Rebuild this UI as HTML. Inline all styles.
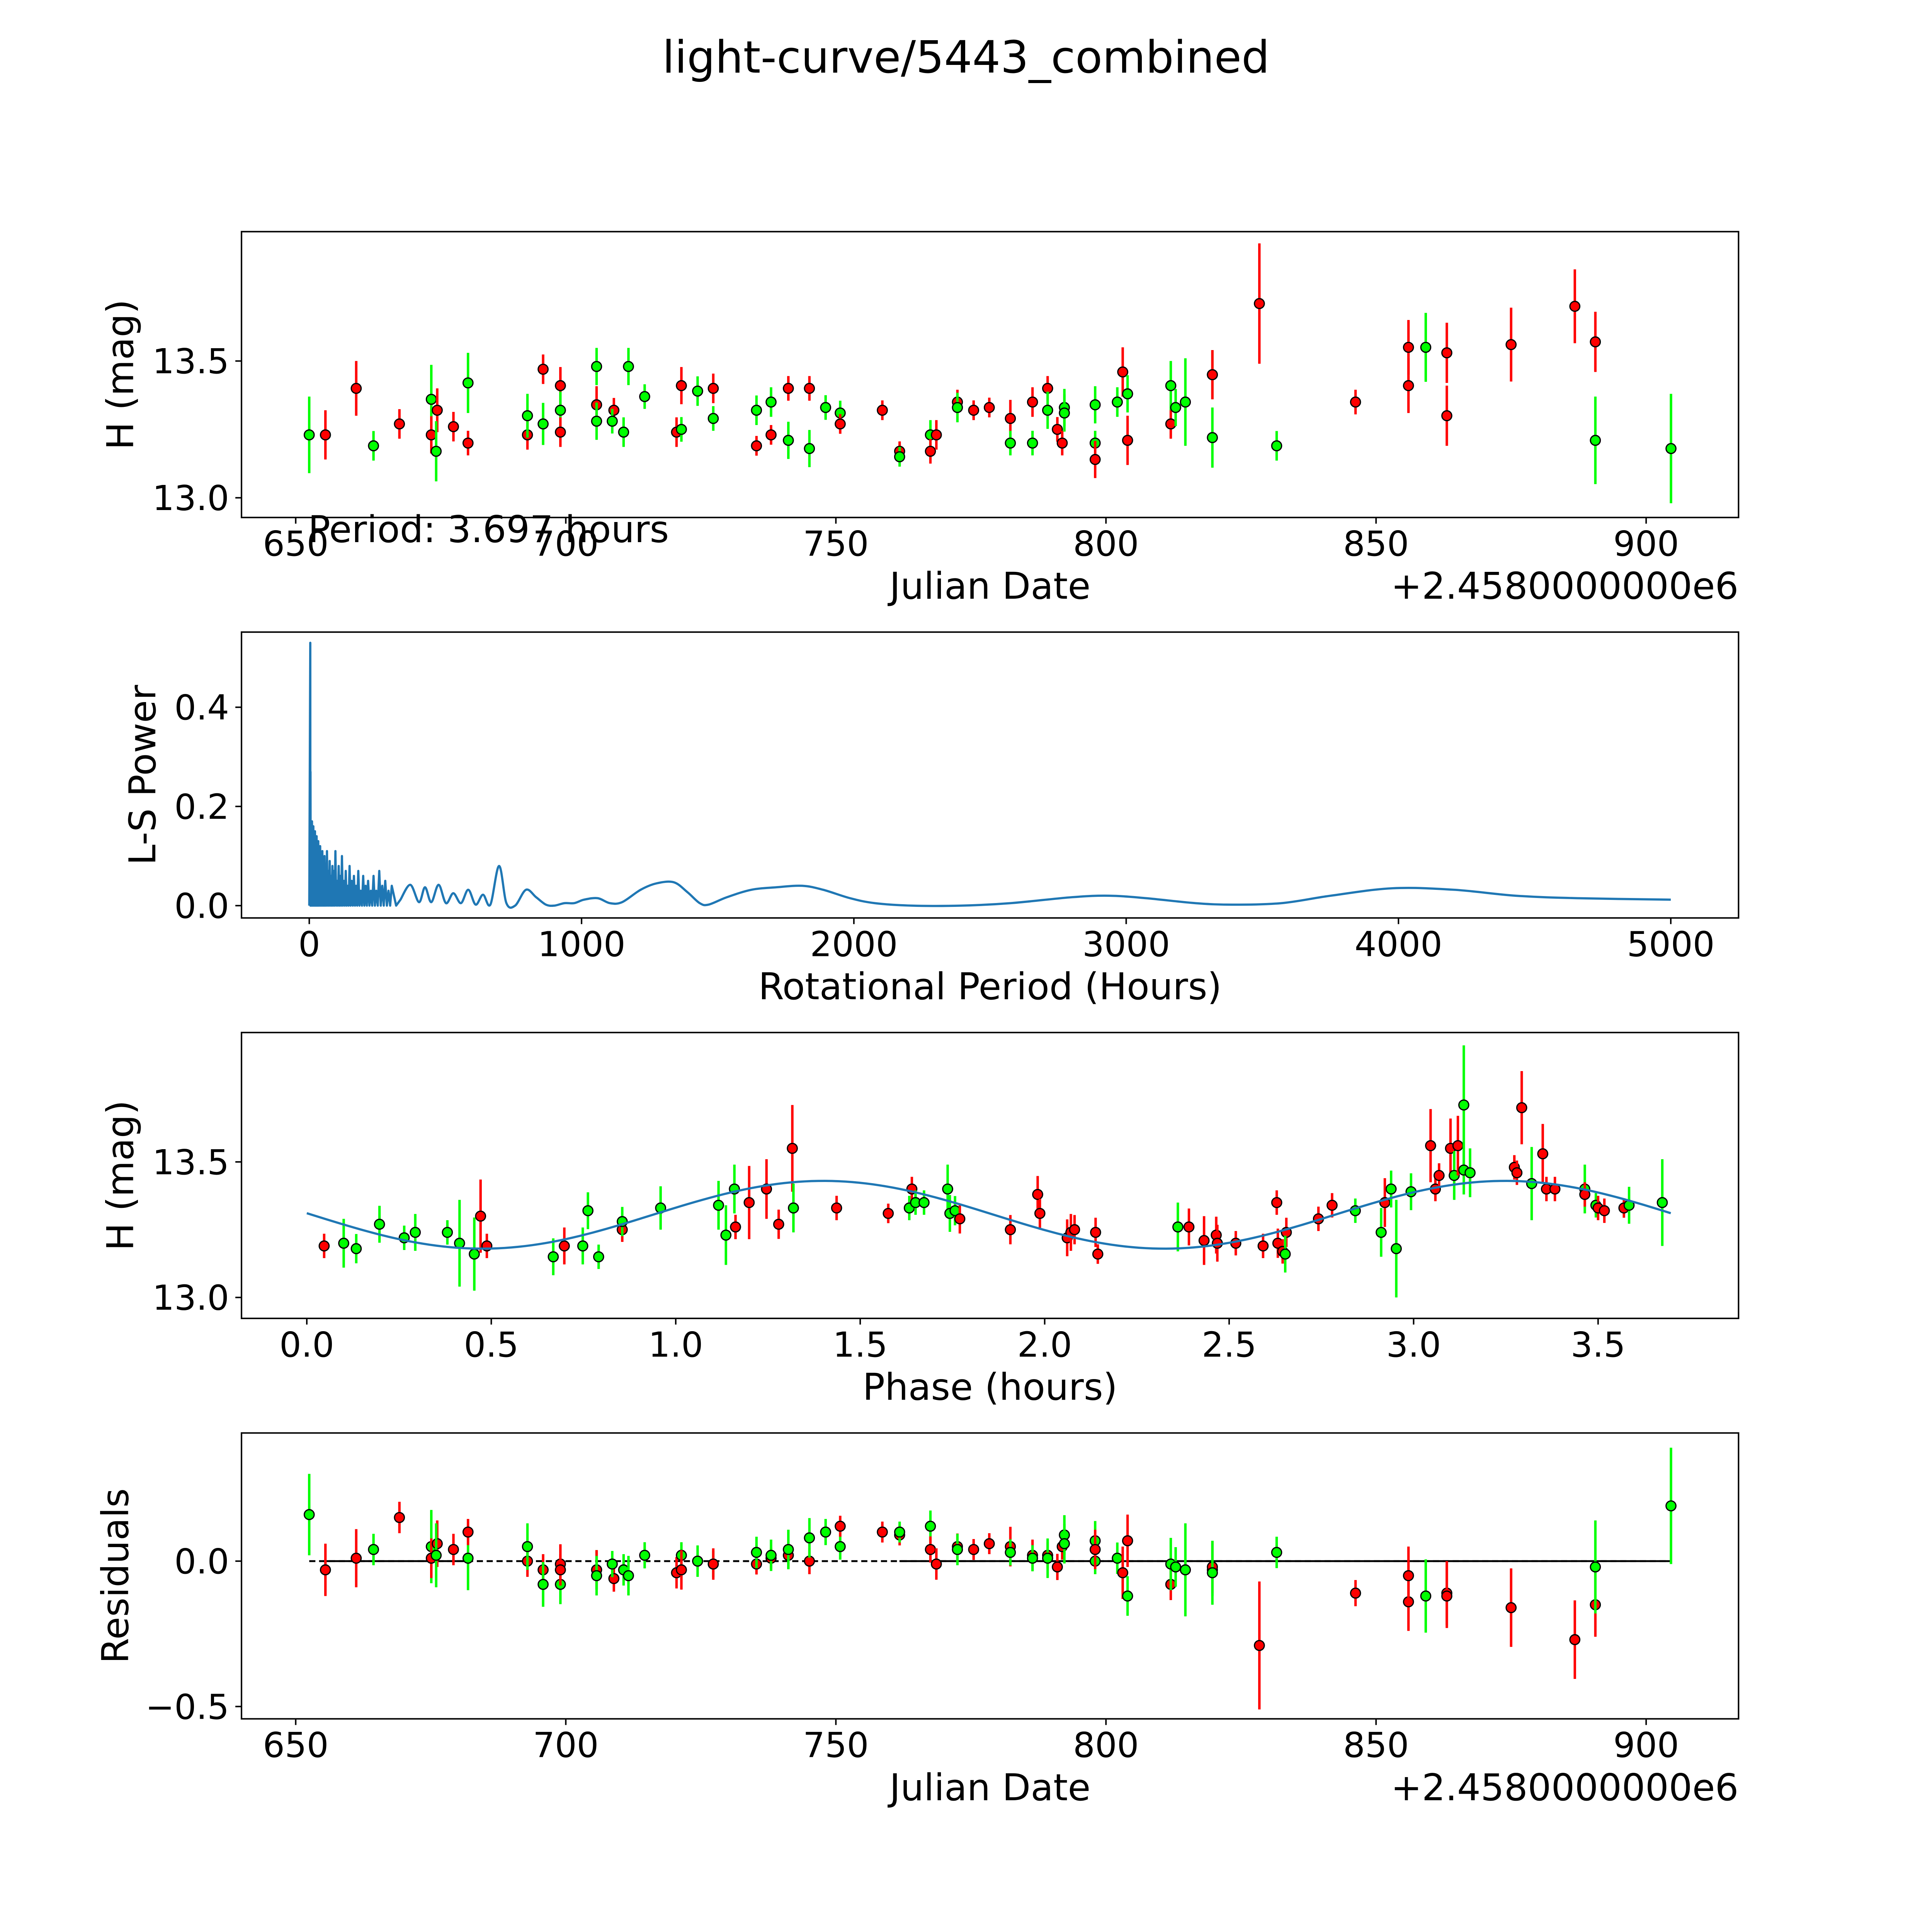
<!DOCTYPE html>
<html><head><meta charset="utf-8"><style>
html,body{margin:0;padding:0;background:#fff;overflow:hidden;width:100vw;height:100vh;}
#fig{display:block;position:absolute;left:0;top:0;width:100vw;height:100vh;}
text{font-family:"DejaVu Sans","Liberation Sans",sans-serif;fill:#000;}
</style></head><body>
<svg id="fig" xmlns="http://www.w3.org/2000/svg" viewBox="0 0 1568 1568" preserveAspectRatio="none">
<rect x="0" y="0" width="1568" height="1568" fill="#fff"/>
<text x="784" y="59" font-size="36" text-anchor="middle">light-curve/5443_combined</text>
<g id="g1"></g>
<g id="g2"></g>
<g id="g3"></g>
<g id="g4"></g>
</svg>
<script>
// ---- time series data (JD - 2458000) ----
const dates=[652.5,655.5,661.2,664.4,669.2,675.1,675.1,676.2,676.0,679.2,681.9,681.9,692.9,692.9,695.8,695.8,699.0,699.0,699.0,705.7,705.7,705.7,708.9,708.6,710.7,711.6,714.6,720.5,721.4,721.4,724.4,727.3,727.3,735.3,735.3,738.0,738.0,741.2,741.2,745.1,745.1,748.1,750.8,750.8,758.6,761.8,761.8,767.5,767.5,768.6,772.5,772.5,775.5,778.4,782.3,782.3,786.4,786.4,789.2,789.2,791.0,791.9,792.3,792.3,798.0,798.0,798.0,802.1,803.1,804.0,804.0,812.0,812.0,812.9,814.7,819.7,819.7,819.7,828.4,831.6,846.2,856.0,856.0,859.2,863.1,863.1,875.0,886.8,890.6,890.6,904.6];
const mags=[13.23,13.23,13.40,13.19,13.27,13.36,13.23,13.32,13.17,13.26,13.42,13.20,13.23,13.30,13.47,13.27,13.41,13.32,13.24,13.48,13.34,13.28,13.32,13.28,13.24,13.48,13.37,13.24,13.25,13.41,13.39,13.29,13.40,13.19,13.32,13.23,13.35,13.40,13.21,13.40,13.18,13.33,13.31,13.27,13.32,13.17,13.15,13.23,13.17,13.23,13.35,13.33,13.32,13.33,13.29,13.20,13.35,13.20,13.40,13.32,13.25,13.20,13.33,13.31,13.34,13.20,13.14,13.35,13.46,13.38,13.21,13.27,13.41,13.33,13.35,13.45,13.45,13.22,13.71,13.19,13.35,13.55,13.41,13.55,13.53,13.30,13.56,13.70,13.57,13.21,13.18];
const errs=[0.14,0.09,0.10,0.054,0.054,0.126,0.068,0.08,0.11,0.054,0.11,0.045,0.054,0.08,0.054,0.077,0.068,0.068,0.054,0.068,0.068,0.068,0.045,0.045,0.054,0.068,0.045,0.054,0.045,0.068,0.054,0.045,0.054,0.036,0.054,0.036,0.054,0.045,0.068,0.045,0.068,0.045,0.045,0.036,0.036,0.036,0.036,0.054,0.045,0.054,0.045,0.054,0.036,0.036,0.068,0.045,0.054,0.045,0.045,0.068,0.045,0.045,0.068,0.068,0.068,0.045,0.068,0.054,0.09,0.068,0.09,0.054,0.09,0.068,0.16,0.09,0.09,0.11,0.22,0.054,0.045,0.10,0.10,0.126,0.11,0.11,0.135,0.135,0.11,0.16,0.2];
const colors="grrgrgrrgrgrrgrgrgrgrgrggggrgrggrrgrgrgrgggrrrggrrrgrrrgrgrgrrggggrgrgrrggggrgrgrrrgrrrrrgg";
const resid=[0.16,-0.03,0.01,0.04,0.15,0.05,0.01,0.06,0.02,0.04,0.01,0.10,0.00,0.05,-0.03,-0.08,-0.01,-0.08,-0.03,-0.03,-0.03,-0.05,-0.06,-0.01,-0.03,-0.05,0.02,-0.04,0.02,-0.03,0.00,-0.01,-0.01,-0.01,0.03,0.01,0.02,0.02,0.04,0.00,0.08,0.10,0.05,0.12,0.10,0.09,0.10,0.12,0.04,-0.01,0.05,0.04,0.04,0.06,0.05,0.03,0.02,0.01,0.02,0.01,-0.02,0.05,0.09,0.06,0.07,0.00,0.04,0.01,-0.04,-0.12,0.07,-0.08,-0.01,-0.02,-0.03,-0.03,-0.02,-0.04,-0.29,0.03,-0.11,-0.14,-0.05,-0.12,-0.11,-0.12,-0.16,-0.27,-0.15,-0.02,0.19];
// ---- phase-folded data ----
const phases=[0.047,0.10,0.134,0.197,0.264,0.294,0.381,0.414,0.454,0.471,0.488,0.668,0.698,0.748,0.762,0.791,0.855,0.855,0.959,1.116,1.136,1.162,1.159,1.199,1.246,1.279,1.316,1.319,1.436,1.576,1.640,1.633,1.650,1.673,1.737,1.743,1.757,1.770,1.907,1.981,1.987,2.061,2.071,2.081,2.138,2.144,2.361,2.391,2.432,2.465,2.468,2.518,2.592,2.629,2.632,2.645,2.655,2.652,2.742,2.779,2.842,2.912,2.922,2.939,2.953,2.993,3.046,3.059,3.069,3.100,3.110,3.120,3.136,3.136,3.153,3.273,3.280,3.293,3.320,3.350,3.360,3.383,3.464,3.464,3.494,3.500,3.517,3.570,3.584,3.674];
const phaseMags=[13.19,13.20,13.18,13.27,13.22,13.24,13.24,13.20,13.16,13.30,13.19,13.15,13.19,13.19,13.32,13.15,13.25,13.28,13.33,13.34,13.23,13.26,13.40,13.35,13.40,13.27,13.55,13.33,13.33,13.31,13.40,13.33,13.35,13.35,13.40,13.31,13.32,13.29,13.25,13.38,13.31,13.22,13.24,13.25,13.24,13.16,13.26,13.26,13.21,13.23,13.20,13.20,13.19,13.35,13.20,13.17,13.24,13.16,13.29,13.34,13.32,13.24,13.35,13.40,13.18,13.39,13.56,13.40,13.45,13.55,13.45,13.56,13.71,13.47,13.46,13.48,13.46,13.70,13.42,13.53,13.40,13.40,13.40,13.38,13.34,13.33,13.32,13.33,13.34,13.35];
const phaseErrs=[0.045,0.09,0.054,0.068,0.045,0.068,0.045,0.16,0.135,0.135,0.045,0.068,0.068,0.068,0.068,0.045,0.045,0.054,0.08,0.09,0.11,0.045,0.09,0.135,0.11,0.054,0.16,0.09,0.045,0.036,0.045,0.045,0.045,0.045,0.09,0.068,0.054,0.054,0.054,0.068,0.054,0.068,0.068,0.054,0.054,0.036,0.09,0.068,0.09,0.068,0.068,0.045,0.045,0.045,0.054,0.045,0.054,0.068,0.045,0.045,0.045,0.09,0.09,0.068,0.18,0.068,0.135,0.045,0.045,0.11,0.09,0.11,0.22,0.09,0.09,0.045,0.045,0.135,0.135,0.11,0.045,0.045,0.09,0.045,0.045,0.045,0.045,0.036,0.068,0.16];
const phaseColors="rggggggggrrgrgggrggggrgrrrrgrrrggggggrrrrrrrrrgrrrrrrrrrrgrrggrgggrrrrgrgggrrrgrrrgrgrrrggg";
// fit model
const fitMean=13.305, fitAmp=0.125, fitPeriod=3.697, fitPhase0=0.938;
// ---- periodogram ----
const spikePeriods=[3.7,4.5,6,8,10,12,15,18,21,24,27,30,33,36,40,44,48,52,56,60,65,70,75,80,85,90,96,102,108,114,120,127,134,141,148,156,164,172,180,189,198,207,216,226,236,246,257,268,279,291,303];
const spikePowers=[0.53,0.27,0.17,0.16,0.17,0.15,0.16,0.14,0.15,0.12,0.14,0.11,0.13,0.10,0.12,0.09,0.11,0.08,0.10,0.08,0.11,0.07,0.09,0.06,0.08,0.07,0.11,0.05,0.08,0.06,0.10,0.05,0.07,0.04,0.08,0.05,0.06,0.04,0.07,0.03,0.06,0.04,0.05,0.03,0.06,0.03,0.07,0.04,0.05,0.03,0.04];
const smoothPeriods=[335,371,403,425,448,475,502,529,557,584,611,638,665,697,724,756,796,833,869,900,937,973,1009,1059,1104,1149,1217,1276,1339,1389,1434,1466,1534,1624,1715,1810,1887,1986,2077,2213,2394,2575,2801,2937,3073,3254,3389,3570,3751,3978,4204,4430,4656,5000];
const smoothPowers=[0.012,0.042,0.007,0.037,0.007,0.042,0.005,0.025,0.005,0.032,0.002,0.022,0.002,0.080,0.005,0.0,0.032,0.017,0.002,0.0,0.005,0.005,0.012,0.015,0.005,0.007,0.032,0.045,0.047,0.027,0.005,0.002,0.017,0.032,0.037,0.040,0.032,0.015,0.005,0.0,0.0,0.005,0.017,0.020,0.015,0.005,0.002,0.005,0.020,0.035,0.032,0.020,0.015,0.012];
const ticksJD=[650,700,750,800,850,900];
const ticksMag=[13.0,13.5];
const ticksPer=[0,1000,2000,3000,4000,5000];
const ticksPow=[0.0,0.2,0.4];
const ticksPhase=[0.0,0.5,1.0,1.5,2.0,2.5,3.0,3.5];
const ticksRes=[-0.5,0.0];

const NS="http://www.w3.org/2000/svg";
function mk(parent,tag,attrs){const e=document.createElementNS(NS,tag);for(const k in attrs)e.setAttribute(k,attrs[k]);parent.appendChild(e);return e;}
function lin(d0,d1,r0,r1){return v=>r0+(v-d0)*(r1-r0)/(d1-d0);}
const L=196,R=1411;
const xJD=lin(650,900,240,1336);
const GREEN="#00ff00",RED="#ff0000";
const TICK_FS=28, LABEL_FS=30;

function frame(g,top,bot,xs,xt,xfmt,ys,yt,yfmt,xlabel,ylabel,ylx){
  const r=mk(g,'rect',{x:L,y:top,width:R-L,height:bot-top,fill:'none',stroke:'#000','stroke-width':1.2});
  
  
  xt.forEach(v=>{const x=xs(v);
    const t=mk(g,'line',{x1:x,x2:x,y1:bot,y2:bot+5,stroke:'#000','stroke-width':1.2});
    
    
    const tx=mk(g,'text',{x:x,y:bot+31,'font-size':TICK_FS,'text-anchor':'middle'});tx.textContent=xfmt(v);
    
    });
  yt.forEach(v=>{const y=ys(v);
    const t=mk(g,'line',{x1:L-5,x2:L,y1:y,y2:y,stroke:'#000','stroke-width':1.2});
    
    
    const tx=mk(g,'text',{x:L-10,y:y+10,'font-size':TICK_FS,'text-anchor':'end'});tx.textContent=yfmt(v);
    
    });
  const xl=mk(g,'text',{x:(L+R)/2,y:bot+66,'font-size':LABEL_FS,'text-anchor':'middle'});xl.textContent=xlabel;
  
  
  const cy=(top+bot)/2;
  const yl=mk(g,'text',{x:ylx,y:cy,'font-size':LABEL_FS,'text-anchor':'middle',transform:`rotate(-90 ${ylx} ${cy})`});yl.textContent=ylabel;
  
  
}
function offset(g,bot){const t=mk(g,'text',{x:R,y:bot+66,'font-size':LABEL_FS,'text-anchor':'end'});t.textContent='+2.4580000000e6';
  
  }
function point(g,x,y,e1,e2,c){
  const col=c==='g'?GREEN:RED;
  const l=mk(g,'line',{x1:x,x2:x,y1:e1,y2:e2,stroke:col,'stroke-width':2});
  
  
  const p=mk(g,'circle',{cx:x,cy:y,r:4,fill:col,stroke:'#000','stroke-width':1});
  
  
}

// Panel 1
(function(){const g=document.getElementById('g1');const top=188,bot=420;
  const ys=lin(13.0,13.5,404,293);
  frame(g,top,bot,xJD,ticksJD,v=>String(v),ys,ticksMag,v=>v.toFixed(1),'Julian Date','H (mag)',108);
  offset(g,bot);
  dates.forEach((d,i)=>point(g,xJD(d),ys(mags[i]),ys(mags[i]+errs[i]),ys(mags[i]-errs[i]),colors[i]));
  const t=mk(g,'text',{x:250,y:440,'font-size':LABEL_FS});t.textContent='Period: 3.697 hours';
  
  
})();
// Panel 2
(function(){const g=document.getElementById('g2');const top=513,bot=745;
  const xs=lin(0,5000,251,1356),ys=lin(0,0.4,735,574);
  frame(g,top,bot,xs,ticksPer,v=>String(v),ys,ticksPow,v=>v.toFixed(1),'Rotational Period (Hours)','L-S Power',126);
  let d='M'+xs(0).toFixed(2)+','+ys(0).toFixed(2);
  for(let i=0;i<spikePeriods.length;i++){
    d+=' L'+xs(spikePeriods[i]).toFixed(2)+','+ys(spikePowers[i]).toFixed(2);
    const nxt=i+1<spikePeriods.length?spikePeriods[i+1]:smoothPeriods[0];
    d+=' L'+xs((spikePeriods[i]+nxt)/2).toFixed(2)+','+ys(0).toFixed(2);
  }
  const P=smoothPeriods.map((p,i)=>[xs(p),ys(smoothPowers[i])]);
  d+=' L'+P[0][0].toFixed(2)+','+P[0][1].toFixed(2);
  for(let i=0;i<P.length-1;i++){
    const p0=P[Math.max(0,i-1)],p1=P[i],p2=P[i+1],p3=P[Math.min(P.length-1,i+2)];
    const c1=[p1[0]+(p2[0]-p0[0])/6,p1[1]+(p2[1]-p0[1])/6];
    const c2=[p2[0]-(p3[0]-p1[0])/6,p2[1]-(p3[1]-p1[1])/6];
    d+=' C'+c1.map(v=>v.toFixed(2)).join(',')+' '+c2.map(v=>v.toFixed(2)).join(',')+' '+p2.map(v=>v.toFixed(2)).join(',');
  }
  const pl=mk(g,'path',{d:d,fill:'none',stroke:'#1f77b4','stroke-width':1.8,'stroke-linejoin':'round'});
  
  
})();
// Panel 3
(function(){const g=document.getElementById('g3');const top=838,bot=1070;
  const xs=lin(0,3.5,249,1297),ys=lin(13.0,13.5,1053,943);
  frame(g,top,bot,xs,ticksPhase,v=>v.toFixed(1),ys,ticksMag,v=>v.toFixed(1),'Phase (hours)','H (mag)',108);
  phases.forEach((p,i)=>point(g,xs(p),ys(phaseMags[i]),ys(phaseMags[i]+phaseErrs[i]),ys(phaseMags[i]-phaseErrs[i]),phaseColors[i]));
  let pts=[];for(let k=0;k<=200;k++){const p=fitPeriod*k/200;const m=fitMean+fitAmp*Math.sin(2*Math.PI*(p-fitPhase0)/(fitPeriod/2));pts.push(xs(p).toFixed(2)+','+ys(m).toFixed(2));}
  const pl=mk(g,'polyline',{points:pts.join(' '),fill:'none',stroke:'#1f77b4','stroke-width':1.8});
  
  
})();
// Panel 4
(function(){const g=document.getElementById('g4');const top=1163,bot=1395;
  const ys=lin(0,-0.5,1267,1385);
  frame(g,top,bot,xJD,ticksJD,v=>String(v),ys,ticksRes,v=>(v<0?'\u2212':'')+Math.abs(v).toFixed(1),'Julian Date','Residuals',104);
  offset(g,bot);
  const y0=ys(0);
  const d=mk(g,'line',{x1:xJD(dates[0]),x2:xJD(dates[dates.length-1]),y1:y0,y2:y0,stroke:'#000','stroke-width':1.5,'stroke-dasharray':'5,3'});
  
  
  const s1=mk(g,'line',{x1:262,x2:380,y1:y0,y2:y0,stroke:'#000','stroke-width':1.5});
  
  
  const s2=mk(g,'line',{x1:730,x2:xJD(dates[dates.length-1]),y1:y0,y2:y0,stroke:'#000','stroke-width':1.5});
  
  
  dates.forEach((dd,i)=>point(g,xJD(dd),ys(resid[i]),ys(resid[i]+errs[i]),ys(resid[i]-errs[i]),colors[i]));
})();
</script>
</body></html>
